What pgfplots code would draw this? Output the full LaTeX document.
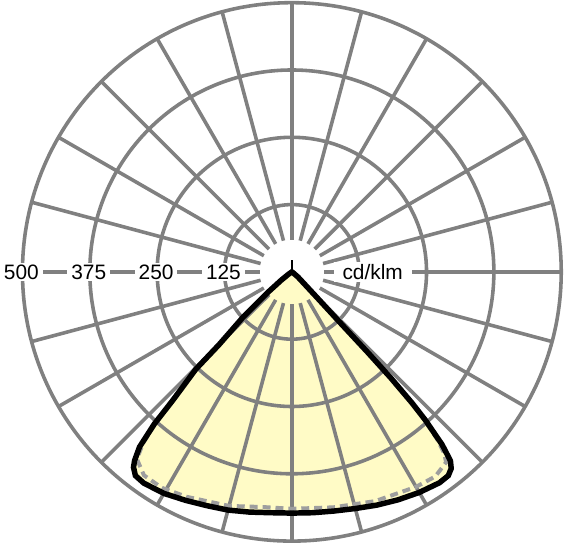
\documentclass[border=0pt]{standalone}
\usepackage{fontspec}
\setmainfont{Liberation Sans}
\usepackage{pgfplots}
\usepackage{pgfplotstable}
\pgfplotsset{compat=1.18}

\definecolor{ldcgrid}{RGB}{128,128,128}
\definecolor{ldcfill}{RGB}{255,251,198}
\definecolor{ldcdash}{RGB}{158,158,158}

% luminous intensity in cd/klm, g = gamma in degrees (negative: C180 side)
\pgfplotstableread{
g I
-60 0
-55 8
-52 25
-49.6 56
-47 126
-45 191
-44.6 254
-42.8 326
-42.1 381
-41 431
-39.8 456
-39 467
-37.5 477
-35 479
-30 475
-25 468
-20 462
-15 458
-10 453
-5 449
0 448
5 449
10 451
15 455
20 461
25 467
30 473
35 478
37.5 477
39 470
40 458
41 425
42 370
42.5 330
43 270
43.3 205
43.5 135
44.5 65
50 15
55 3
60 0
}\czero

\pgfplotstableread{
g I
-60 0
-55 8
-52 25
-49.6 56
-47 126
-45 191
-44.6 254
-42.8 322
-42.1 374
-41 420
-40 442
-39.4 452
-36 467
-31 468
-25 461
-15 450
-7 440
0 440
10 444
20 453
30 461
35 464
39 455
40 440
41 410
42 362
42.5 322
43 266
43.3 205
43.5 135
44.5 65
50 15
55 3
60 0
}\cninety

\begin{document}
\begin{tikzpicture}
\begin{axis}[
  width=565pt, height=550pt, scale only axis,
  xmin=-535, xmax=507, ymin=-510, ymax=505,
  hide axis, clip=false,
]
\path (axis cs:-535,-510) rectangle (axis cs:507,505);

% filled C0-C180 curve
\addplot[draw=none, fill=ldcfill] table[x expr={\thisrow{I}*sin(\thisrow{g})}, y expr={-\thisrow{I}*cos(\thisrow{g})}] {\czero} -- cycle;

% polar grid
\pgfplotsinvokeforeach{125,250,375,500}{
  \draw[ldcgrid, line width=3.6pt] (axis cs:0,0) circle[radius=#1];
}
\pgfplotsinvokeforeach{0,15,...,345}{
  \draw[ldcgrid, line width=3.6pt] (axis cs:{60*sin(#1)},{60*cos(#1)}) -- (axis cs:{500*sin(#1)},{500*cos(#1)});
}

% scale labels
\pgfplotsinvokeforeach{125,250,375,500}{
  \node[fill=white, inner xsep=4pt, inner ysep=2pt, font=\fontsize{21}{21}\selectfont] at (axis cs:-#1-2,0) {#1};
}
\node[fill=white, inner xsep=9pt, inner ysep=2pt, font=\fontsize{21}{21}\selectfont] at (axis cs:150,0) {cd/klm};

% C90-C270 (dashed) and C0-C180 (solid)
\addplot[ldcdash, line width=4pt, dash pattern=on 8pt off 5pt] table[x expr={\thisrow{I}*sin(\thisrow{g})}, y expr={-\thisrow{I}*cos(\thisrow{g})}] {\cninety};
\addplot[black, line width=5.5pt, line join=miter] table[x expr={\thisrow{I}*sin(\thisrow{g})}, y expr={-\thisrow{I}*cos(\thisrow{g})}] {\czero} -- cycle;

% luminaire marker
\addplot[black, line width=1.5pt] coordinates {(0,0) (0,22)};
\end{axis}
\end{tikzpicture}
\end{document}
